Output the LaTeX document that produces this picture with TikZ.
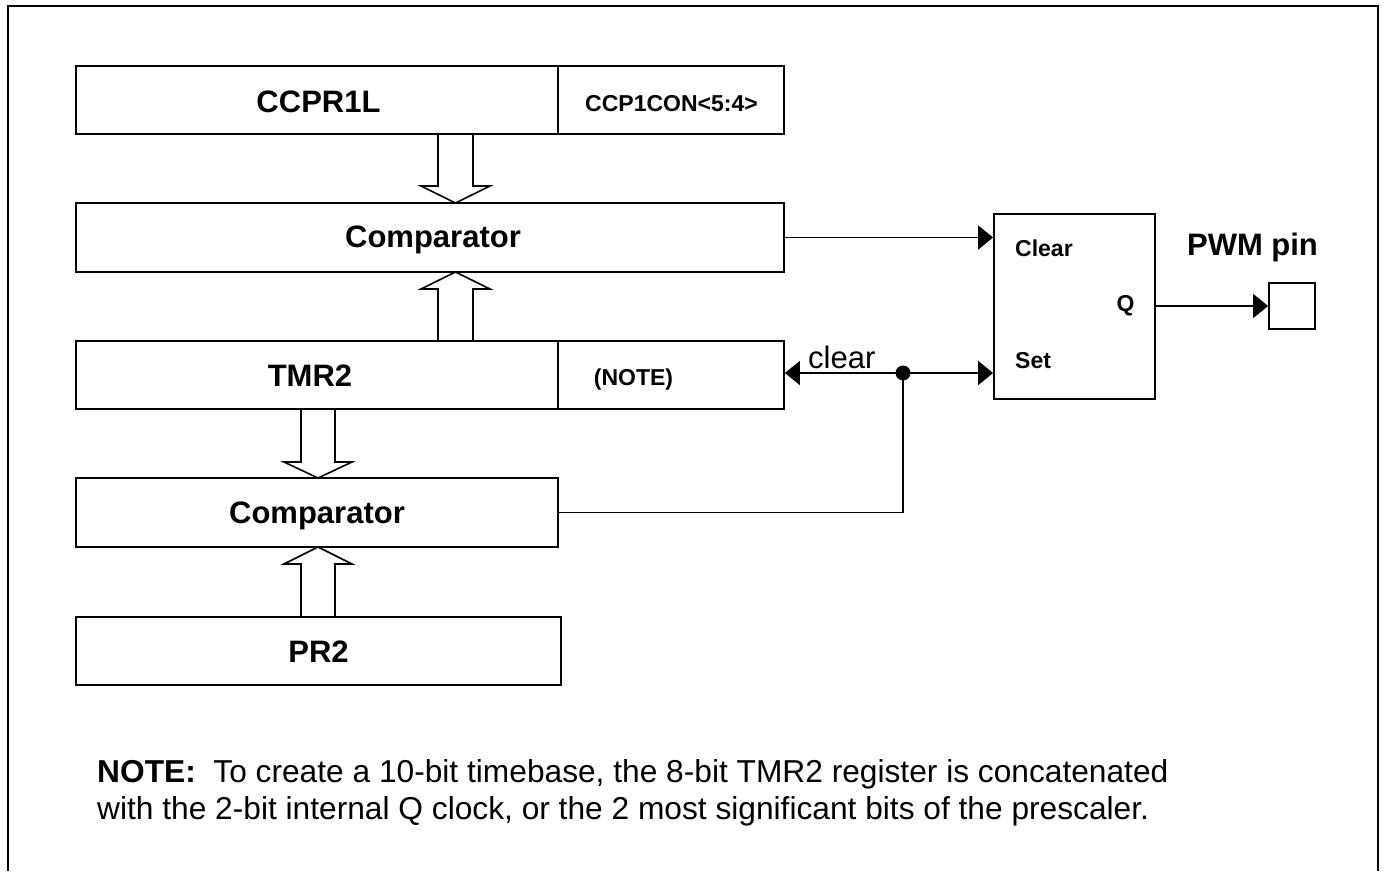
\documentclass[tikz,border=0pt]{standalone}
\usepackage{fontspec}
\setmainfont{Liberation Sans}
\usetikzlibrary{arrows.meta}
\begin{document}
\begin{tikzpicture}[x=1pt,y=-1pt,
  box/.style={draw,line width=1.8pt,inner sep=0pt},
  big/.style={font=\fontsize{31}{36}\selectfont\bfseries,inner sep=0pt,anchor=base},
  small/.style={font=\fontsize{23}{28}\selectfont\bfseries,inner sep=0pt,anchor=base},
  plain/.style={font=\fontsize{31}{36}\selectfont,inner sep=0pt,anchor=base west},
  notetext/.style={font=\fontsize{31.7}{36}\selectfont,inner sep=0pt,anchor=base west},
  wire/.style={line width=1.7pt},
  arr/.style={wire,-{Triangle[length=15pt,width=24pt]}},
  bus/.style={draw,line width=1.6pt,fill=white,line join=miter}]
\useasboundingbox (0,0) rectangle (1385,871);
% outer frame
\draw[line width=2.4pt] (8,871) -- (8,6) -- (1378,6) -- (1378,871);
% boxes
\node[box,minimum width=482pt,minimum height=68pt] (ccpr) at (317,100) {};
\node[box,minimum width=226pt,minimum height=68pt] (ccpcon) at (671,100) {};
\node[box,minimum width=708pt,minimum height=69pt] (cmpa) at (430,237.5) {};
\node[box,minimum width=482pt,minimum height=68pt] (tmr) at (317,375) {};
\node[box,minimum width=226pt,minimum height=68pt] (notebox) at (671,375) {};
\node[box,minimum width=482pt,minimum height=69pt] (cmpb) at (317,512.5) {};
\node[box,minimum width=485pt,minimum height=68pt] (pr) at (318.5,651) {};
\node[box,minimum width=161pt,minimum height=185pt] (ff) at (1074.5,306.5) {};
\node[box,minimum width=46pt,minimum height=46pt] (pin) at (1292,306) {};
% labels
\node[big] (tccpr) at (318.5,112) {CCPR1L};
\node[small] (tccpcon) at (671.5,111) {CCP1CON<5:4>};
\node[big] (tcmpa) at (433,247) {Comparator};
\node[big] (ttmr) at (310,386) {TMR2};
\node[small] (tnote) at (633.5,385) {(NOTE)};
\node[big] (tcmpb) at (317,523) {Comparator};
\node[big] (tpr) at (318.5,662) {PR2};
\node[small,anchor=base west] (tclr) at (1015,256) {Clear};
\node[small] (tq) at (1125.5,311) {Q};
\node[small,anchor=base west] (tset) at (1015,368) {Set};
\node[big] (tpwm) at (1252.5,255) {PWM pin};
\node[plain] (tclear) at (808,368) {clear};
\node[notetext] (nl1) at (97,782) {\textbf{NOTE:}\ \ To create a 10-bit timebase, the 8-bit TMR2 register is concatenated};
\node[notetext] (nl2) at (97,819) {with the 2-bit internal Q clock, or the 2 most significant bits of the prescaler.};
% bus arrows
\draw[bus] (438,134) -- (473,134) -- (473,186) -- (490,186) -- (455.5,203) -- (421,186) -- (438,186) -- cycle;
\draw[bus] (438,341) -- (473,341) -- (473,289) -- (490,289) -- (455.5,272) -- (421,289) -- (438,289) -- cycle;
\draw[bus] (301,409) -- (335,409) -- (335,462) -- (352,462) -- (318,478) -- (284,462) -- (301,462) -- cycle;
\draw[bus] (301,617) -- (335,617) -- (335,564) -- (352,564) -- (318,547) -- (284,564) -- (301,564) -- cycle;
% connectors
\coordinate (j) at (903,373);
\draw[arr] (cmpa.east) -- (cmpa.east -| ff.west);
\draw[arr] (j) -- (j -| ff.west);
\draw[arr] (j) -- (j -| notebox.east);
\draw[wire] (cmpb.east) -| (j);
\fill (j) circle (7.5pt);
\draw[arr] (ff.east |- pin.west) -- (pin.west);
\end{tikzpicture}
\end{document}
